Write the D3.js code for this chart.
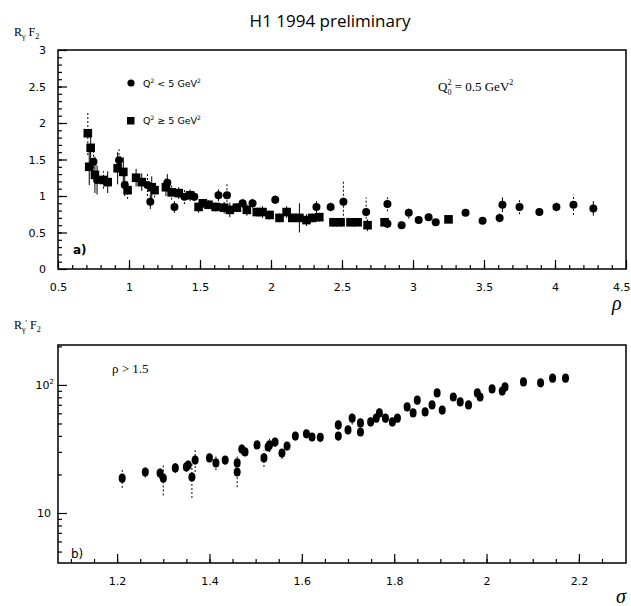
<!DOCTYPE html>
<html>
<head>
<meta charset="utf-8">
<script src="https://cdn.jsdelivr.net/npm/d3@7"></script>
<style>
body { margin: 0; background: #fff; }
text { fill: #000; }
</style>
</head>
<body>
<div class="chart"></div>
<script>
// panel a) : R_gamma F2 vs rho
const rhoVals = [0.71,0.73,0.72,0.75,0.76,0.775,0.82,0.85,0.92,0.93,0.96,0.97,0.99,1.05,1.09,1.13,1.15,1.16,1.18,
  1.26,1.27,1.30,1.32,1.35,1.39,1.43,1.46,1.49,1.52,1.56,1.61,1.63,1.67,1.69,1.71,1.76,1.80,1.83,1.87,1.90,
  1.94,1.99,2.03,2.06,2.11,2.15,2.20,2.25,2.29,2.32,2.34,2.42,2.44,2.49,2.51,2.56,2.61,2.67,2.68,2.80,2.82,
  2.82,2.92,2.97,3.04,3.11,3.16,3.25,3.37,3.49,3.61,3.63,3.75,3.89,4.01,4.13,4.27];
const rfVals = [1.86,1.66,1.40,1.47,1.29,1.22,1.22,1.19,1.38,1.49,1.33,1.15,1.08,1.25,1.19,1.15,0.92,1.12,1.08,
  1.12,1.18,1.05,0.85,1.04,0.99,1.01,0.99,0.85,0.90,0.88,0.85,1.01,0.84,1.01,0.81,0.84,0.90,0.81,0.90,0.78,
  0.78,0.74,0.95,0.70,0.78,0.70,0.70,0.67,0.70,0.85,0.71,0.85,0.64,0.64,0.92,0.64,0.64,0.78,0.60,0.64,0.89,
  0.62,0.60,0.77,0.67,0.71,0.64,0.68,0.77,0.66,0.70,0.88,0.85,0.78,0.85,0.88,0.83];
const rfErrs = [0.30,0.25,0.25,0.15,0.25,0.20,0.12,0.15,0.22,0.15,0.20,0.15,0.12,0.12,0.12,0.15,0.10,0.15,0.10,
  0.12,0.12,0.10,0.08,0.08,0.10,0.08,0.06,0.08,0.06,0.06,0.06,0.08,0.08,0.15,0.10,0.06,0.06,0.08,0.06,0.06,
  0.08,0.06,0.06,0.06,0.08,0.06,0.20,0.08,0.06,0.08,0.06,0.06,0.06,0.06,0.30,0.05,0.05,0.20,0.08,0.06,0.10,
  0.06,0.05,0.08,0.05,0.05,0.05,0.04,0.04,0.04,0.06,0.10,0.10,0.05,0.06,0.14,0.10];
// 1 = circle (Q2 < 5 GeV2), 0 = square (Q2 >= 5 GeV2)
const rfLowQ = [0,0,0,1,0,1,0,0,0,1,0,1,0,0,0,1,1,0,0,0,1,0,1,0,1,0,1,0,0,0,0,1,0,1,0,0,1,0,1,0,
  0,0,1,0,0,0,0,0,0,1,0,1,0,0,1,0,0,1,0,0,1,1,1,1,1,1,1,0,1,1,1,1,1,1,1,1,1];

// panel b) : R_gamma' F2 vs sigma, rho > 1.5
const sigmaVals = [1.211,1.261,1.293,1.30,1.326,1.35,1.354,1.362,1.369,1.40,1.414,1.434,1.46,1.46,1.47,1.477,
  1.503,1.518,1.527,1.53,1.542,1.557,1.568,1.586,1.61,1.622,1.64,1.679,1.679,1.70,1.709,1.727,1.727,1.749,
  1.761,1.768,1.781,1.796,1.807,1.828,1.841,1.85,1.867,1.882,1.893,1.904,1.928,1.943,1.961,1.98,1.986,
  2.012,2.034,2.04,2.08,2.117,2.143,2.171];
const sfVals = [18.7,20.9,20.5,18.7,22.5,22.9,23.7,19.1,25.9,26.9,24.6,25.9,24.6,20.9,31.6,30.0,
  34.0,26.9,32.8,34.0,35.8,29.4,33.3,39.9,41.5,39.2,39.0,48.7,39.9,44.5,55.0,50.5,42.9,51.4,
  55.0,60.4,55.0,51.4,55.0,67.3,60.4,76.0,61.5,69.8,86.6,63.7,80.5,73.7,69.8,86.6,80.5,
  93.0,89.6,96.4,105.6,103.8,113.0,113.0];
const sfErrs = [3,2,2,5,2,2,2,6,5,2,3,2,3,5,3,2,
  2,4,2,4,3,3,2,2,3,3,2,4,3,3,6,4,3,4,
  4,5,4,4,4,5,4,6,4,5,6,5,5,4,4,5,4,
  5,5,5,6,6,6,6];

const xTicksA = [0.5,1,1.5,2,2.5,3,3.5,4,4.5];
const yTicksA = [0,0.5,1,1.5,2,2.5,3];
const xTicksB = [1.2,1.4,1.6,1.8,2,2.2];

const W = 631, H = 606;
const svg = d3.select(".chart").append("svg")
  .attr("width", W).attr("height", H)
  .style("font-family", "'DejaVu Sans', sans-serif");

svg.append("text")
  .attr("x", 330).attr("y", 27)
  .attr("text-anchor", "middle")
  .style("font-family", "'Open Sans', sans-serif")
  .style("font-size", "17px")
  .text("H1 1994 preliminary");

// ---------- panel a ----------
const xA = d3.scaleLinear().domain([0.5, 4.5]).range([58, 626]);
const yA = d3.scaleLinear().domain([0, 3]).range([269, 50]);

function frame(x, y) {
  svg.append("rect")
    .attr("x", x.range()[0]).attr("y", y.range()[1])
    .attr("width", x.range()[1] - x.range()[0])
    .attr("height", y.range()[0] - y.range()[1])
    .attr("fill", "none").attr("stroke", "#000").attr("stroke-width", 1.5);
}
frame(xA, yA);

function styleAxis(g, fs) {
  g.select(".domain").remove();
  g.selectAll("line").attr("stroke", "#000").attr("stroke-width", 1.2);
  g.selectAll("text").style("font-size", fs).style("font-family", "'DejaVu Sans', sans-serif");
}

svg.append("g")
  .attr("transform", "translate(0," + yA.range()[0] + ")")
  .call(d3.axisBottom(xA).tickValues(d3.range(0.6, 4.45, 0.1)).tickSize(-4).tickFormat(""))
  .call(g => styleAxis(g, "11px"));
svg.append("g")
  .attr("transform", "translate(0," + yA.range()[0] + ")")
  .call(d3.axisBottom(xA).tickValues(xTicksA).tickSize(-9).tickPadding(14).tickFormat(d3.format("")))
  .call(g => styleAxis(g, "11px"))
  .call(g => g.selectAll(".tick:last-of-type text").attr("text-anchor", "end").attr("dx", 4));
svg.append("g")
  .attr("transform", "translate(" + xA.range()[0] + ",0)")
  .call(d3.axisLeft(yA).tickValues(d3.range(0.1, 2.95, 0.1)).tickSize(-4).tickFormat(""))
  .call(g => styleAxis(g, "11px"));
svg.append("g")
  .attr("transform", "translate(" + xA.range()[0] + ",0)")
  .call(d3.axisLeft(yA).tickValues(yTicksA).tickSize(-9).tickPadding(12).tickFormat(d3.format("")))
  .call(g => styleAxis(g, "11px"));

const ptsA = rhoVals.map((r, i) => ({ x: r, y: rfVals[i], e: rfErrs[i], low: rfLowQ[i] }));
const gA = svg.append("g");
gA.selectAll(".errA").data(ptsA).enter().append("line")
  .attr("x1", d => xA(d.x)).attr("x2", d => xA(d.x))
  .attr("y1", d => yA(d.y - d.e)).attr("y2", d => yA(d.y + d.e))
  .attr("stroke", "#000").attr("stroke-width", 1)
  .attr("stroke-dasharray", (d, i) => i % 3 === 0 ? "2,2" : null);
gA.selectAll(".circA").data(ptsA.filter(d => d.low)).enter().append("circle")
  .attr("cx", d => xA(d.x)).attr("cy", d => yA(d.y)).attr("r", 4).attr("fill", "#000");
gA.selectAll(".sqA").data(ptsA.filter(d => !d.low)).enter().append("rect")
  .attr("x", d => xA(d.x) - 4.3).attr("y", d => yA(d.y) - 4.3)
  .attr("width", 8.6).attr("height", 8.6).attr("fill", "#000");

// legend
svg.append("circle").attr("cx", 131).attr("cy", 83).attr("r", 3.6).attr("fill", "#000");
svg.append("rect").attr("x", 127).attr("y", 117).attr("width", 7.5).attr("height", 7.5).attr("fill", "#000");
function qLabel(y, op) {
  const t = svg.append("text").attr("x", 143).attr("y", y).style("font-size", "9.5px");
  t.append("tspan").text("Q");
  t.append("tspan").attr("dy", -4).style("font-size", "6px").text("2");
  t.append("tspan").attr("dy", 4).text(" " + op + " 5 GeV");
  t.append("tspan").attr("dy", -4).style("font-size", "6px").text("2");
}
qLabel(87, "<");
qLabel(124, "\u2265");

const q0 = svg.append("text").attr("x", 438).attr("y", 91)
  .style("font-family", "'Liberation Serif', serif").style("font-size", "13px");
q0.append("tspan").text("Q");
q0.append("tspan").attr("dy", -6).style("font-size", "8px").text("2");
q0.append("tspan").attr("dx", -4).attr("dy", 10).style("font-size", "8px").text("0");
q0.append("tspan").attr("dy", -4).text(" = 0.5 GeV");
q0.append("tspan").attr("dy", -6).style("font-size", "8px").text("2");

svg.append("text").attr("x", 73).attr("y", 254).style("font-size", "12px").style("font-weight", "bold").text("a)");

const ylA = svg.append("text").attr("x", 14).attr("y", 36)
  .style("font-family", "'Liberation Serif', serif").style("font-size", "12px");
ylA.append("tspan").text("R");
ylA.append("tspan").attr("dy", 3).style("font-size", "8px").text("\u03b3");
ylA.append("tspan").attr("dy", -3).text(" F");
ylA.append("tspan").attr("dy", 3).style("font-size", "8px").text("2");

svg.append("text").attr("x", 612).attr("y", 310)
  .style("font-family", "'Liberation Serif', serif").style("font-style", "italic").style("font-size", "20px")
  .text("\u03c1");

// ---------- panel b ----------
const xB = d3.scaleLinear().domain([1.072, 2.302]).range([58, 626]);
const yB = d3.scaleLog().domain([4.07, 205]).range([563, 345]);
frame(xB, yB);

svg.append("g")
  .attr("transform", "translate(0," + yB.range()[0] + ")")
  .call(d3.axisBottom(xB).tickValues(d3.range(1.1, 2.3, 0.05)).tickSize(-4).tickFormat(""))
  .call(g => styleAxis(g, "11px"));
svg.append("g")
  .attr("transform", "translate(0," + yB.range()[0] + ")")
  .call(d3.axisBottom(xB).tickValues(xTicksB).tickSize(-9).tickPadding(14).tickFormat(d3.format("")))
  .call(g => styleAxis(g, "11px"));
const minorLog = [5,6,7,8,9,20,30,40,50,60,70,80,90,200];
svg.append("g")
  .attr("transform", "translate(" + xB.range()[0] + ",0)")
  .call(d3.axisLeft(yB).tickValues(minorLog).tickSize(-4).tickFormat(""))
  .call(g => styleAxis(g, "11px"));
svg.append("g")
  .attr("transform", "translate(" + xB.range()[0] + ",0)")
  .call(d3.axisLeft(yB).tickValues([10, 100]).tickSize(-9).tickPadding(6).tickFormat(""))
  .call(g => styleAxis(g, "11px"));
svg.append("text").attr("x", 51).attr("y", yB(10) + 4).attr("text-anchor", "end").style("font-size", "11px").text("10");
const t100 = svg.append("text").attr("x", 54).attr("y", yB(100) + 4).attr("text-anchor", "end").style("font-size", "11px");
t100.append("tspan").text("10");
t100.append("tspan").attr("dy", -5).style("font-size", "7px").text("2");

const ptsB = sigmaVals.map((s, i) => ({ x: s, y: sfVals[i], e: sfErrs[i] }));
const gB = svg.append("g");
gB.selectAll(".errB").data(ptsB).enter().append("line")
  .attr("x1", d => xB(d.x)).attr("x2", d => xB(d.x))
  .attr("y1", d => yB(d.y - d.e)).attr("y2", d => yB(d.y + d.e))
  .attr("stroke", "#000").attr("stroke-width", 1).attr("stroke-dasharray", "2,2");
gB.selectAll(".ptB").data(ptsB).enter().append("ellipse")
  .attr("cx", d => xB(d.x)).attr("cy", d => yB(d.y)).attr("rx", 3.5).attr("ry", 4.6).attr("fill", "#000");

svg.append("text").attr("x", 112).attr("y", 373)
  .style("font-family", "'Liberation Serif', serif").style("font-size", "13px").text("\u03c1 > 1.5");
svg.append("text").attr("x", 71).attr("y", 558).style("font-size", "12px").text("b)");

const ylB = svg.append("text").attr("x", 14).attr("y", 329)
  .style("font-family", "'Liberation Serif', serif").style("font-size", "12px");
ylB.append("tspan").text("R");
ylB.append("tspan").attr("dy", 3).style("font-size", "8px").text("\u03b3");
ylB.append("tspan").attr("dy", -6).style("font-size", "8px").text("'");
ylB.append("tspan").attr("dy", 3).text(" F");
ylB.append("tspan").attr("dy", 3).style("font-size", "8px").text("2");

svg.append("text").attr("x", 616).attr("y", 603)
  .style("font-family", "'Liberation Serif', serif").style("font-style", "italic").style("font-size", "20px")
  .text("\u03c3");
</script>
</body>
</html>
